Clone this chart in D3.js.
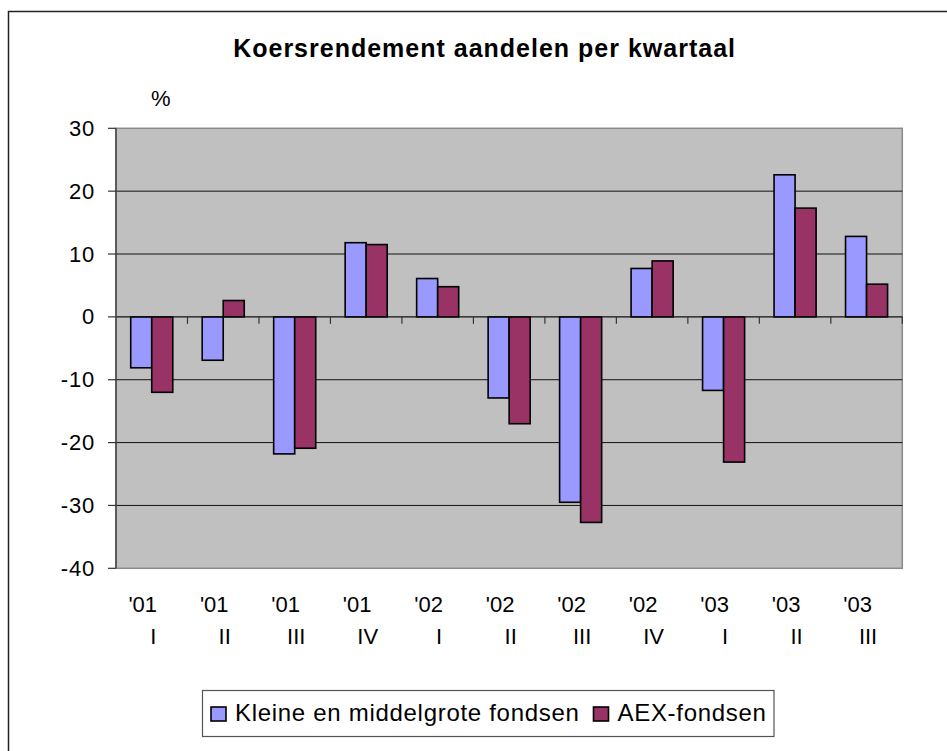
<!DOCTYPE html>
<html>
<head>
<meta charset="utf-8">
<script src="https://cdn.jsdelivr.net/npm/d3@7"></script>
<style>
  body { margin: 0; background: #fff; }
  text { font-family: "Liberation Sans", Arial, sans-serif; fill: #000; }
</style>
</head>
<body>
<svg id="chart"></svg>
<script>
const years = ["'01", "'01", "'01", "'01", "'02", "'02", "'02", "'02", "'03", "'03", "'03"];
const quarters = ["I", "II", "III", "IV", "I", "II", "III", "IV", "I", "II", "III"];
const seriesNames = ["Kleine en middelgrote fondsen", "AEX-fondsen"];
const smallMid = [-8.1, -6.9, -21.8, 11.8, 6.1, -12.9, -29.5, 7.7, -11.7, 22.6, 12.8];
const aex = [-12.0, 2.6, -20.9, 11.5, 4.8, -17.0, -32.7, 8.9, -23.1, 17.3, 5.2];
const yTicks = [-40, -30, -20, -10, 0, 10, 20, 30];

const width = 947;
const height = 751;
const margin = {top: 128.3, right: 44.7, bottom: 182.7, left: 116};
const colors = ["#9999ff", "#993366"];

const svg = d3.select("#chart").attr("width", width).attr("height", height);

// outer frame (runs past the right/bottom edge like the source)
svg
  .append("rect")
  .attr("x", 8.5)
  .attr("y", 11.5)
  .attr("width", 945)
  .attr("height", 745)
  .attr("fill", "none")
  .attr("stroke", "#222")
  .attr("stroke-width", 1.5);

const cats = d3.range(years.length);

const x0 = d3
  .scaleBand()
  .domain(cats)
  .range([margin.left, width - margin.right])
  .padding(0);

const x1 = d3
  .scaleBand()
  .domain([0, 1])
  .range([0, x0.bandwidth()])
  .paddingInner(0)
  .paddingOuter(0.7);

const y = d3
  .scaleLinear()
  .domain([-40, 30])
  .range([height - margin.bottom, margin.top]);

// plot area
svg
  .append("rect")
  .attr("x", margin.left)
  .attr("y", margin.top)
  .attr("width", width - margin.right - margin.left)
  .attr("height", height - margin.bottom - margin.top)
  .attr("fill", "#c0c0c0")
  .attr("stroke", "#8a8a8a")
  .attr("stroke-width", 1.5);

// gridlines
svg
  .selectAll(".grid")
  .data(yTicks.filter((d) => d > -40 && d < 30 && d !== 0))
  .enter()
  .append("line")
  .attr("x1", margin.left)
  .attr("x2", width - margin.right)
  .attr("y1", (d) => y(d))
  .attr("y2", (d) => y(d))
  .attr("stroke", "#111")
  .attr("stroke-width", 1);

// bars
const rows = cats.map((i) => [smallMid[i], aex[i]]);

svg
  .selectAll(".group")
  .data(rows)
  .enter()
  .append("g")
  .attr("class", "group")
  .attr("transform", (d, i) => `translate(${x0(i)},0)`)
  .selectAll("rect")
  .data((d) => d.map((v, s) => ({v, s})))
  .enter()
  .append("rect")
  .attr("x", (d) => x1(d.s))
  .attr("width", x1.bandwidth())
  .attr("y", (d) => y(Math.max(0, d.v)))
  .attr("height", (d) => Math.abs(y(d.v) - y(0)))
  .attr("fill", (d) => colors[d.s])
  .attr("stroke", "#000")
  .attr("stroke-width", 1.6);

// zero axis + category ticks
svg
  .append("line")
  .attr("x1", margin.left)
  .attr("x2", width - margin.right)
  .attr("y1", y(0))
  .attr("y2", y(0))
  .attr("stroke", "#111")
  .attr("stroke-width", 1.2);

svg
  .selectAll(".xtick")
  .data(cats.slice(1).concat([years.length]))
  .enter()
  .append("line")
  .attr("x1", (d) => (d < years.length ? x0(d) : width - margin.right))
  .attr("x2", (d) => (d < years.length ? x0(d) : width - margin.right))
  .attr("y1", y(0))
  .attr("y2", y(0) + 7)
  .attr("stroke", "#333")
  .attr("stroke-width", 1.2);

// value axis
svg
  .append("line")
  .attr("x1", margin.left)
  .attr("x2", margin.left)
  .attr("y1", margin.top)
  .attr("y2", height - margin.bottom)
  .attr("stroke", "#444")
  .attr("stroke-width", 1.5);

svg
  .selectAll(".ytick")
  .data(yTicks)
  .enter()
  .append("line")
  .attr("x1", margin.left - 8)
  .attr("x2", margin.left)
  .attr("y1", (d) => y(d))
  .attr("y2", (d) => y(d))
  .attr("stroke", "#333")
  .attr("stroke-width", 1.2);

svg
  .selectAll(".ylabel")
  .data(yTicks)
  .enter()
  .append("text")
  .attr("x", 95)
  .attr("y", (d) => y(d) + 7.5)
  .attr("text-anchor", "end")
  .attr("font-size", "22px")
  .attr("letter-spacing", "0.8px")
  .text((d) => d);

// category labels, two lines
svg
  .selectAll(".year-label")
  .data(cats)
  .enter()
  .append("text")
  .attr("x", (d) => x0(d) + x0.bandwidth() / 2 - 9)
  .attr("y", 612)
  .attr("text-anchor", "middle")
  .attr("font-size", "22px")
  .text((d) => years[d]);

svg
  .selectAll(".quarter-label")
  .data(cats)
  .enter()
  .append("text")
  .attr("x", (d) => x0(d) + x0.bandwidth() / 2 + 1.5)
  .attr("y", 644)
  .attr("text-anchor", "middle")
  .attr("font-size", "22px")
  .text((d) => quarters[d]);

// title and unit
svg
  .append("text")
  .attr("x", 484.6)
  .attr("y", 56.5)
  .attr("text-anchor", "middle")
  .attr("font-size", "25px")
  .attr("font-weight", "bold")
  .attr("letter-spacing", "1px")
  .text("Koersrendement aandelen per kwartaal");

svg
  .append("text")
  .attr("x", 151)
  .attr("y", 106)
  .attr("font-size", "22px")
  .text("%");

// Legend
const legend = svg.append("g");

legend
  .append("rect")
  .attr("x", 202.5)
  .attr("y", 690.5)
  .attr("width", 571.5)
  .attr("height", 46)
  .attr("fill", "#fff")
  .attr("stroke", "#555")
  .attr("stroke-width", 1.2);

const legendX = [211, 593.5];

seriesNames.forEach((name, i) => {
  legend
    .append("rect")
    .attr("x", legendX[i])
    .attr("y", 707)
    .attr("width", 15)
    .attr("height", 14)
    .attr("fill", colors[i])
    .attr("stroke", "#000")
    .attr("stroke-width", 1.6);

  legend
    .append("text")
    .attr("x", legendX[i] + 24)
    .attr("y", 721)
    .attr("font-size", "24px")
    .attr("letter-spacing", "0.7px")
    .text(name);
});
</script>
</body>
</html>
